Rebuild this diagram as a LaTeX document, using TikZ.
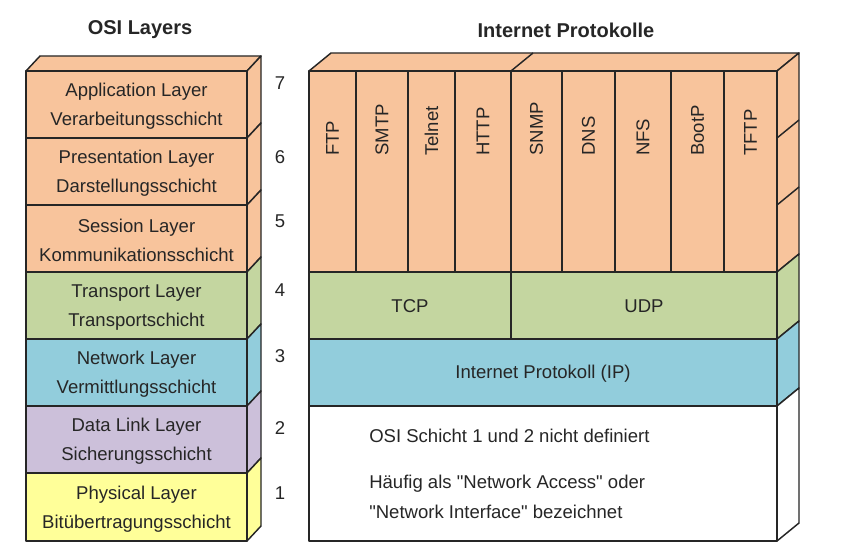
\documentclass[tikz,border=0pt]{standalone}
\usepackage{fontspec}
\setmainfont{Liberation Sans}[Ligatures=TeXOff]

\definecolor{appcol}{HTML}{F8C49C}
\definecolor{transcol}{HTML}{C4D6A0}
\definecolor{netcol}{HTML}{92CDDC}
\definecolor{linkcol}{HTML}{CCC0DA}
\definecolor{physcol}{HTML}{FFFF99}

\begin{document}
\begin{tikzpicture}[x = 0.75pt, y = -0.75pt,
    face/.style  = {draw = black!85, line width = 1.1pt, line join = round},
    lbl/.style   = {font = \fontsize{13.9}{22}\selectfont, text = black!85, inner sep = 0pt, align = center},
    proto/.style = {lbl, rotate = 90, anchor = west},
    note/.style  = {lbl, anchor = west, align = left},
    head/.style  = {lbl, font = \fontsize{15}{18}\selectfont\bfseries}]

\useasboundingbox (0, 0) rectangle (852, 555);

% titles
\node[head] (osititle) at (140, 30) {OSI Layers};
\node[head] (iptitle)  at (566, 30) {Internet Protokolle};

% OSI stack: top and side faces
\draw[face, fill = appcol]   (26,  71) -- (40,  56) -- (261,  56) -- (247,  71) -- cycle;
\draw[face, fill = appcol]   (247,  71) -- (261,  56) -- (261, 123) -- (247, 138) -- cycle;
\draw[face, fill = appcol]   (247, 138) -- (261, 123) -- (261, 190) -- (247, 205) -- cycle;
\draw[face, fill = appcol]   (247, 205) -- (261, 190) -- (261, 257) -- (247, 272) -- cycle;
\draw[face, fill = transcol] (247, 272) -- (261, 257) -- (261, 324) -- (247, 339) -- cycle;
\draw[face, fill = netcol]   (247, 339) -- (261, 324) -- (261, 391) -- (247, 406) -- cycle;
\draw[face, fill = linkcol]  (247, 406) -- (261, 391) -- (261, 458) -- (247, 473) -- cycle;
\draw[face, fill = physcol]  (247, 473) -- (261, 458) -- (261, 526) -- (247, 541) -- cycle;

% OSI stack: front faces
\draw[face, fill = appcol]   (26,  71) rectangle (247, 138);
\draw[face, fill = appcol]   (26, 138) rectangle (247, 205);
\draw[face, fill = appcol]   (26, 205) rectangle (247, 272);
\draw[face, fill = transcol] (26, 272) rectangle (247, 339);
\draw[face, fill = netcol]   (26, 339) rectangle (247, 406);
\draw[face, fill = linkcol]  (26, 406) rectangle (247, 473);
\draw[face, fill = physcol]  (26, 473) rectangle (247, 541);

\node[lbl] (app)   at (136.5, 106.5) {Application Layer\\Verarbeitungsschicht};
\node[lbl] (pres)  at (136.5, 173.5) {Presentation Layer\\Darstellungsschicht};
\node[lbl] (sess)  at (136.5, 240.5) {Session Layer\\Kommunikationsschicht};
\node[lbl] (trans) at (136.5, 307.5) {Transport Layer\\Transportschicht};
\node[lbl] (net)   at (136.5, 374.5) {Network Layer\\Vermittlungsschicht};
\node[lbl] (link)  at (136.5, 441.5) {Data Link Layer\\Sicherungsschicht};
\node[lbl] (phys)  at (136.5, 509.0) {Physical Layer\\Bitübertragungsschicht};

% layer numbers
\node[lbl] (n7) at (280,  83) {7};
\node[lbl] (n6) at (280, 157) {6};
\node[lbl] (n5) at (280, 221) {5};
\node[lbl] (n4) at (280, 290) {4};
\node[lbl] (n3) at (280, 356) {3};
\node[lbl] (n2) at (280, 428) {2};
\node[lbl] (n1) at (280, 493) {1};

% internet stack: top and side faces
\draw[face, fill = appcol] (309, 71) -- (331, 53) -- (799, 53) -- (777, 71) -- cycle;
\draw[face] (511, 71) -- (533, 53);

\draw[face, fill = appcol]   (777,  71) -- (799,  53) -- (799, 254) -- (777, 272) -- cycle;
\draw[face] (777, 138) -- (799, 120);
\draw[face] (777, 205) -- (799, 187);
\draw[face, fill = transcol] (777, 272) -- (799, 254) -- (799, 321) -- (777, 339) -- cycle;
\draw[face, fill = netcol]   (777, 339) -- (799, 321) -- (799, 388) -- (777, 406) -- cycle;
\draw[face, fill = white]    (777, 406) -- (799, 388) -- (799, 523) -- (777, 541) -- cycle;

% internet stack: front faces
\draw[face, fill = appcol]   (309,  71) rectangle (777, 272);
\draw[face] (356, 71) -- (356, 272);
\draw[face] (408, 71) -- (408, 272);
\draw[face] (455, 71) -- (455, 272);
\draw[face] (511, 71) -- (511, 272);
\draw[face] (562, 71) -- (562, 272);
\draw[face] (615, 71) -- (615, 272);
\draw[face] (671, 71) -- (671, 272);
\draw[face] (724, 71) -- (724, 272);

\draw[face, fill = transcol] (309, 272) rectangle (511, 339);
\draw[face, fill = transcol] (511, 272) rectangle (777, 339);
\draw[face, fill = netcol]   (309, 339) rectangle (777, 406);
\draw[face, fill = white]    (309, 406) rectangle (777, 541);

\node[proto] (ftp)    at (332.5, 156) {FTP};
\node[proto] (smtp)   at (382.0, 156) {SMTP};
\node[proto] (telnet) at (431.5, 156) {Telnet};
\node[proto] (http)   at (483.0, 156) {HTTP};
\node[proto] (snmp)   at (536.5, 156) {SNMP};
\node[proto] (dns)    at (588.5, 156) {DNS};
\node[proto] (nfs)    at (643.0, 156) {NFS};
\node[proto] (bootp)  at (697.5, 156) {BootP};
\node[proto] (tftp)   at (750.5, 156) {TFTP};

\node[lbl] (tcp) at (410, 306.5) {TCP};
\node[lbl] (udp) at (644, 306.5) {UDP};
\node[lbl] (ip)  at (543, 373.5) {Internet Protokoll (IP)};

\node[note] (note1) at (369, 436) {OSI Schicht 1 und 2 nicht definiert};
\node[note] (note2) at (369, 484) {Häufig als "Network Access" oder};
\node[note] (note3) at (369, 512) {"Network Interface" bezeichnet};

\end{tikzpicture}
\end{document}
